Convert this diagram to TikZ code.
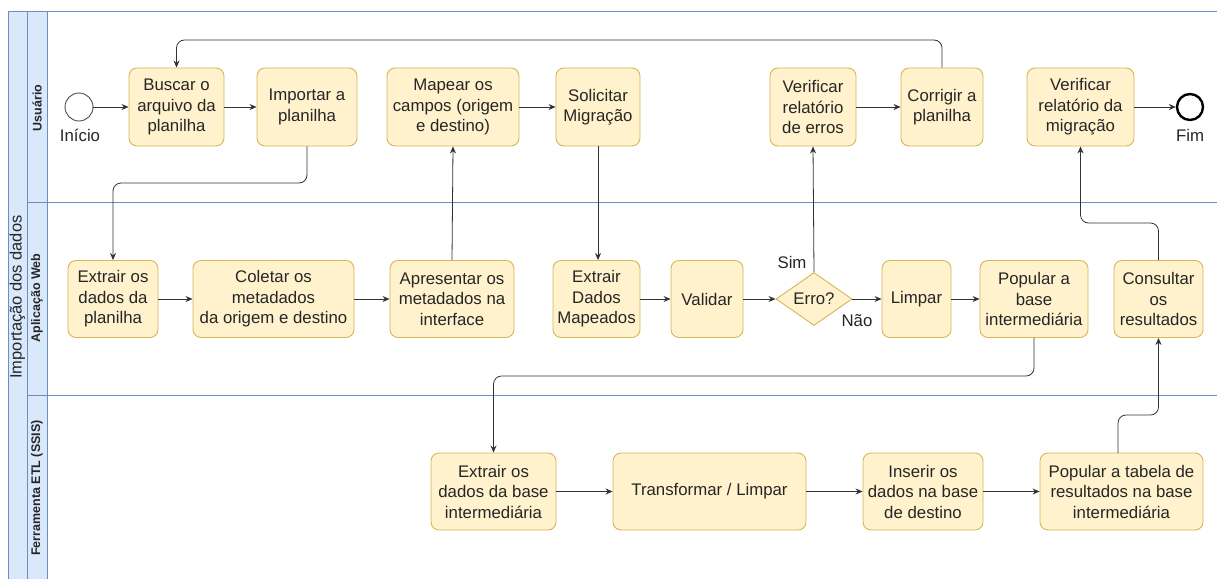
\documentclass[tikz,border=0pt]{standalone}
\usepackage{fontspec}
\setmainfont{Liberation Sans}
\usetikzlibrary{shapes.geometric,arrows.meta}
\definecolor{taskfill}{HTML}{FFF2CC}
\definecolor{taskline}{HTML}{D6B656}
\definecolor{lanefill}{HTML}{DAE8FC}
\definecolor{laneline}{HTML}{6C8EBF}
\definecolor{txt}{HTML}{262626}
\definecolor{conncol}{HTML}{333333}
\tikzset{
  task/.style={rectangle, rounded corners=8pt, fill=taskfill, draw=taskline, line width=0.9pt,
    align=center, inner sep=0pt, minimum height=78pt, text=txt,
    font=\fontsize{16.8}{20.5}\selectfont},
  gate/.style={diamond, fill=taskfill, draw=taskline, line width=0.9pt, inner sep=0pt,
    minimum width=76pt, minimum height=48pt, text=txt, font=\fontsize{16.8}{20}\selectfont},
  startev/.style={circle, draw=black!70, line width=0.9pt, fill=white, minimum size=28pt, inner sep=0pt},
  endev/.style={circle, draw=black, line width=2.4pt, fill=white, minimum size=26pt, inner sep=0pt},
  lbl/.style={text=txt, font=\fontsize{16.8}{20}\selectfont, inner sep=0pt},
  conn/.style={draw=conncol, line width=0.8pt, rounded corners=8pt, -{Stealth[length=7pt,width=6pt]}},
  lanehead/.style={fill=lanefill, draw=laneline, line width=0.8pt},
  lanetxt/.style={rotate=90, font=\fontsize{12.5}{14}\selectfont\bfseries, text=black!85, inner sep=0pt},
}
\begin{document}
\begin{tikzpicture}[x=1pt,y=-1pt]
\useasboundingbox (0,0) rectangle (1217,579);
% pool and lanes
\fill[lanefill] (8,11) rectangle (47,579);
\draw[laneline, line width=0.8pt] (8,579) -- (8,11) -- (1217,11);
\draw[laneline, line width=0.8pt] (27,11) -- (27,579);
\draw[laneline, line width=0.8pt] (47,11) -- (47,579);
\draw[laneline, line width=0.8pt] (27,202) -- (1217,202);
\draw[laneline, line width=0.8pt] (27,395) -- (1217,395);
\node[rotate=90, font=\fontsize{16.5}{18}\selectfont, text=black!85, inner sep=0pt] (pool) at (17.5,297) {Importação dos dados};
\node[lanetxt] (l1) at (37,108) {Usuário};
\node[lanetxt] (l2) at (37,298) {Aplicação Web};
\node[lanetxt] (l3) at (37,488) {Ferramenta ETL (SSIS)};

% Usuario lane
\node[startev] (inicio) at (79,107) {};
\node[lbl] (inicioL) at (80,135) {Início};
\node[task, minimum width=95pt] (buscar) at (176.5,107) {Buscar o\\arquivo da\\planilha};
\node[task, minimum width=100pt] (importar) at (307,107) {Importar a\\planilha};
\node[task, minimum width=132pt] (mapear) at (453,107) {Mapear os\\campos (origem\\e destino)};
\node[task, minimum width=84pt] (solicitar) at (598,107) {Solicitar\\Migração};
\node[task, minimum width=86pt] (verErros) at (813,107) {Verificar\\relatório\\de erros};
\node[task, minimum width=82pt] (corrigir) at (942,107) {Corrigir a\\planilha};
\node[task, minimum width=107pt] (verMig) at (1080.5,107) {Verificar\\relatório da\\migração};
\node[endev] (fim) at (1190,107) {};
\node[lbl] (fimL) at (1190,135) {Fim};

% Aplicacao Web lane
\node[task, minimum width=90pt, minimum height=77pt] (extPlan) at (113,299) {Extrair os\\dados da\\planilha};
\node[task, minimum width=161pt, minimum height=77pt] (coletar) at (273.5,299) {Coletar os\\metadados\\da origem e destino};
\node[task, minimum width=124pt, minimum height=77pt] (apresentar) at (452,299) {Apresentar os\\metadados na\\interface};
\node[task, minimum width=87pt, minimum height=77pt] (extMap) at (596.5,299) {Extrair\\Dados\\Mapeados};
\node[task, minimum width=72pt, minimum height=77pt] (validar) at (707,299) {Validar};
\node[gate] (erro) at (814,299) {Erro?};
\node[task, minimum width=69pt, minimum height=77pt] (limpar) at (916.5,299) {Limpar};
\node[task, minimum width=108pt, minimum height=77pt] (popBase) at (1034,299) {Popular a\\base\\intermediária};
\node[task, minimum width=89pt, minimum height=77pt] (consultar) at (1158.5,299) {Consultar\\os\\resultados};

% ETL lane
\node[task, minimum width=125pt, minimum height=77pt] (extBase) at (493.5,491.5) {Extrair os\\dados da base\\intermediária};
\node[task, minimum width=193pt, minimum height=77pt] (transf) at (709.5,491.5) {Transformar / Limpar};
\node[task, minimum width=120pt, minimum height=77pt] (inserir) at (923,491.5) {Inserir os\\dados na base\\de destino};
\node[task, minimum width=163pt, minimum height=77pt] (popTab) at (1121.5,491.5) {Popular a tabela de\\resultados na base\\intermediária};

% helper coordinates
\coordinate (yTop) at (0,40);
\coordinate (yImp) at (0,183);
\coordinate (yCons) at (0,223);
\coordinate (yPop) at (0,376);
\coordinate (yTab) at (0,415);
\coordinate (popTabTop) at (1118,453);

% connectors
\draw[conn] (inicio) -- (buscar);
\draw[conn] (buscar) -- (importar);
\draw[conn] (importar.south) -- (importar.south |- yImp) -| (extPlan.north);
\draw[conn] (extPlan) -- (coletar);
\draw[conn] (coletar) -- (apresentar);
\draw[conn] (apresentar.north) -- (mapear.south);
\draw[conn] (mapear) -- (solicitar);
\draw[conn] (solicitar.south) -- (solicitar.south |- extMap.north);
\draw[conn] (extMap) -- (validar);
\draw[conn] (validar) -- (erro);
\draw[conn] (erro.north) -- (verErros.south);
\node[lbl] (sim) at (792,262) {Sim};
\draw[conn] (erro.east) -- (limpar.west);
\node[lbl] (nao) at (857,321) {Não};
\draw[conn] (limpar) -- (popBase);
\draw[conn] (popBase.south) -- (popBase.south |- yPop) -| (extBase.north);
\draw[conn] (extBase) -- (transf);
\draw[conn] (transf) -- (inserir);
\draw[conn] (inserir) -- (popTab);
\draw[conn] (popTabTop) -- (popTabTop |- yTab) -| (consultar.south);
\draw[conn] (consultar.north) -- (consultar.north |- yCons) -| (verMig.south);
\draw[conn] (verErros) -- (corrigir);
\draw[conn] (corrigir.north) -- (corrigir.north |- yTop) -| (buscar.north);
\draw[conn] (verMig) -- (fim);
\end{tikzpicture}
\end{document}
